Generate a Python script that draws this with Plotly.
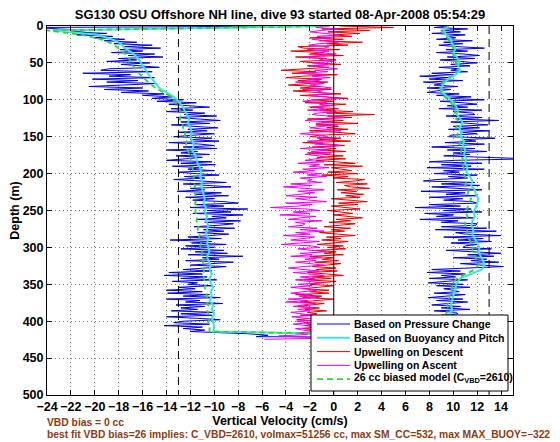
import numpy as np
import plotly.graph_objects as go

# ---------------- data ----------------
TITLE = "SG130 OSU Offshore NH line, dive 93 started 08-Apr-2008 05:54:29"
X_TITLE = "Vertical Velocity (cm/s)"
Y_TITLE = "Depth (m)"
NOTE_1 = "VBD bias = 0 cc"
NOTE_2 = "best fit VBD bias=26 implies: C_VBD=2610, volmax=51256 cc, max SM_CC=532, max MAX_BUOY=\u2212322"
SERIES_NAMES = ["Based on Pressure Change", "Based on Buoyancy and Pitch",
                "Upwelling on Descent", "Upwelling on Ascent",
                "26 cc biased model (C<sub>VBD</sub>=2610)"]

X_TICKS = list(range(-24, 15, 2))
Y_TICKS = list(range(0, 501, 50))
LIMIT_LINES = [-13, 13]
ZERO_LINE = 0

STEP_FINE = 2    # m between samples of noisy series
STEP_SMOOTH = 6  # m between samples of smooth series

# Pressure-change vertical velocity, descent (depth 0..414 every 2 m)
w_press_desc = [
    -0.5, -25.0, -23.0, -20.5, -22.0, -19.0, -21.5, -18.5, -20.0, -17.5, -19.2, -16.5, -18.4, -15.2, -17.6,
    -14.5, -17.9, -16.0, -18.6, -15.0, -17.2, -14.3, -18.0, -16.5, -19.0, -15.4, -17.8, -16.2, -14.6, -18.8,
    -19.5, -15.2, -21.0, -17.0, -18.8, -15.0, -20.2, -16.4, -19.0, -14.8, -18.2, -20.5, -16.0, -19.2, -15.5,
    -17.8, -14.2, -16.0, -13.5, -15.2, -12.6, -14.8, -11.5, -13.8, -12.2, -10.4, -13.6, -11.8, -14.0, -10.8,
    -12.5, -9.8, -13.2, -11.0, -9.5, -12.8, -10.4, -13.6, -11.5, -9.7, -12.2, -10.6, -13.0, -10.0, -11.8,
    -13.4, -10.2, -12.0, -9.6, -13.8, -11.2, -10.0, -12.6, -9.8, -14.0, -11.4, -12.8, -10.4, -13.2, -11.0,
    -12.4, -14.0, -10.2, -12.8, -9.9, -13.5, -11.0, -12.2, -10.0, -13.0, -11.6, -9.6, -12.5, -10.8, -13.4,
    -11.2, -9.0, -12.6, -10.3, -8.6, -12.0, -10.8, -13.1, -9.4, -11.6, -8.8, -12.4, -10.0, -11.8, -9.2,
    -8.0, -11.5, -9.2, -12.0, -7.2, -10.6, -8.6, -11.8, -7.6, -10.2, -9.0, -11.4, -7.8, -10.8, -8.4,
    -9.6, -11.7, -8.3, -10.9, -9.2, -11.4, -8.8, -10.4, -12.2, -9.4, -13.7, -10.2, -11.9, -9.0, -12.4,
    -10.0, -12.8, -9.2, -11.6, -8.9, -12.2, -7.6, -11.0, -9.6, -12.4, -8.4, -10.6, -12.0, -9.0, -11.2,
    -12.6, -10.2, -13.8, -11.0, -14.2, -10.6, -12.8, -9.8, -13.5, -11.4, -12.2, -10.2, -13.0, -11.6, -14.0,
    -11.0, -13.9, -10.4, -12.6, -9.5, -14.0, -11.2, -12.4, -9.3, -13.2, -10.8, -12.8, -11.4, -13.6, -10.0,
    -12.8, -10.2, -14.0, -11.5, -9.5, -12.6, -13.4, -10.4, -14.2, -11.0, -12.6, -10.8, -12.0,
]
# turn at the bottom of the dive
w_press_turn = [-7.2, -5.5, -6.5, 8.0]
d_press_turn = [417, 419, 421, 422]
# Pressure-change vertical velocity, ascent (depth 0..420 every 2 m, listed top-down)
w_press_asc = [
    9.6, 8.4, 11.2, 9.0, 10.6, 8.2, 11.0, 9.4, 10.2, 8.6, 11.6, 9.2, 10.8, 8.8, 10.4,
    12.6, 9.4, 11.2, 8.6, 10.9, 12.2, 9.5, 11.8, 8.9, 10.6, 12.0, 9.8, 11.4, 8.8, 10.5,
    9.8, 11.2, 8.2, 10.0, 7.2, 9.6, 8.0, 10.8, 7.5, 9.2, 8.4, 10.4, 7.8, 9.8, 8.6,
    7.8, 10.5, 8.6, 11.5, 9.4, 12.6, 8.9, 10.8, 12.0, 9.5, 11.2, 8.8, 12.4, 10.0, 11.6,
    11.8, 9.4, 12.4, 10.2, 13.8, 9.8, 11.5, 12.9, 10.0, 12.2, 9.6, 13.0, 10.6, 12.0, 9.8,
    9.6, 13.5, 10.8, 11.9, 9.3, 12.6, 10.5, 8.2, 11.8, 9.5, 12.8, 10.0, 11.4, 9.2, 12.2,
    16.5, 10.2, 8.0, 12.4, 9.0, 11.5, 7.8, 12.6, 9.2, 10.5, 8.4, 12.0, 9.6, 11.2, 8.6,
    7.5, 11.8, 9.0, 12.2, 8.2, 10.6, 12.4, 7.3, 11.0, 9.4, 12.0, 8.0, 10.8, 9.2, 11.6,
    12.0, 8.0, 10.6, 6.8, 11.5, 9.2, 12.4, 7.6, 10.0, 8.6, 11.8, 7.2, 10.4, 9.0, 12.0,
    11.9, 9.0, 12.8, 8.5, 13.6, 10.2, 11.0, 14.0, 9.2, 12.5, 10.4, 13.2, 9.8, 12.0, 11.0,
    10.8, 13.2, 9.4, 12.0, 14.0, 11.2, 13.4, 10.0, 12.8, 11.5, 13.8, 10.6, 12.4, 14.2, 11.0,
    8.2, 10.6, 7.8, 11.0, 9.0, 10.2, 8.0, 11.2, 9.4, 7.9, 10.8, 8.6, 11.4, 9.2, 10.0,
    10.5, 8.4, 11.0, 9.2, 7.9, 10.8, 8.6, 11.2, 9.6, 8.2, 10.6, 9.0, 11.4, 8.4, 10.2,
    10.4, 9.0, 11.5, 8.5, 10.2, 9.4, 11.0, 8.8, 10.0, 9.5, 10.3, 8.6, 11.2, 9.6, 10.0,
    9.8,
]

# Buoyancy & pitch model, descent (depth 0..414 every 6 m)
w_buoy_desc = [
    -0.5, -23.5, -19.8, -18.6, -17.8, -17.5, -16.9, -16.5, -16.2, -16.0,
    -15.7, -15.5, -15.2, -14.9, -14.6, -14.0, -13.4, -13.0, -12.7, -12.5,
    -12.3, -12.1, -12.2, -12.0, -11.9, -12.0, -11.8, -11.7, -11.9, -11.6,
    -11.5, -11.4, -11.2, -11.1, -11.2, -11.0, -11.1, -11.0, -10.9, -10.8,
    -10.9, -10.7, -10.8, -10.6, -10.7, -10.5, -10.6, -10.7, -10.5, -10.6,
    -10.5, -10.4, -10.6, -10.5, -10.3, -10.4, -10.2, -10.4, -10.3, -10.1,
    -10.3, -10.2, -10.4, -10.1, -10.2, -10.0, -10.2, -10.1, -10.0, -10.1,
]
# Buoyancy & pitch model, ascent (depth 0..420 every 6 m, top-down)
w_buoy_asc = [
    9.6, 9.2, 9.4, 9.8, 9.9, 10.2, 10.0, 10.3, 10.5, 10.4,
    10.6, 10.2, 9.6, 9.2, 9.0, 9.1, 9.5, 9.9, 10.2, 10.4,
    10.3, 10.6, 10.8, 10.5, 10.7, 10.6, 10.9, 10.8, 11.0, 10.9,
    11.1, 11.0, 11.2, 11.1, 11.4, 11.6, 11.5, 11.8, 11.9, 12.1,
    12.0, 11.9, 11.7, 11.8, 11.6, 11.5, 11.7, 11.6, 11.8, 12.0,
    12.2, 12.1, 12.3, 12.5, 12.6, 12.4, 11.5, 10.6, 10.3, 10.2,
    10.1, 10.0, 9.9, 9.8, 9.9, 9.7, 9.8, 9.6, 9.7, 9.5, 9.6,
]

# 26 cc biased model, descent (0..414 every 6 m)
w_model_desc = [
    -0.5, -24.0, -21.0, -19.5, -18.5, -18.0, -17.6, -17.2, -17.0, -16.8,
    -16.5, -16.2, -15.8, -15.4, -14.9, -14.2, -13.6, -13.3, -13.1, -12.9,
    -12.8, -12.9, -12.7, -12.6, -12.4, -12.5, -12.3, -12.4, -12.2, -12.1,
    -12.0, -11.9, -11.8, -11.8, -11.7, -11.8, -11.6, -11.7, -11.6, -11.5,
    -11.6, -11.5, -11.6, -11.4, -11.5, -11.3, -11.4, -11.2, -11.3, -11.1,
    -11.2, -11.0, -11.1, -10.9, -11.0, -10.9, -10.8, -10.9, -10.7, -10.8,
    -10.7, -10.6, -10.7, -10.5, -10.6, -10.5, -10.4, -10.5, -10.4, -10.4,
]
# 26 cc biased model, ascent (0..420 every 6 m, top-down)
w_model_asc = [
    9.3, 9.0, 9.3, 9.6, 9.8, 10.0, 9.9, 10.1, 10.3, 10.2,
    10.4, 10.0, 9.4, 9.0, 8.9, 9.0, 9.3, 9.7, 10.0, 10.2,
    10.1, 10.3, 10.5, 10.2, 10.4, 10.3, 10.6, 10.5, 10.7, 10.6,
    10.8, 10.7, 10.9, 10.8, 11.0, 11.1, 11.0, 11.3, 11.2, 11.5,
    11.3, 11.2, 11.0, 11.2, 11.0, 11.0, 11.2, 11.1, 11.3, 11.5,
    11.6, 11.6, 11.8, 12.0, 12.1, 11.8, 11.0, 10.3, 10.0, 9.9,
    9.8, 9.7, 9.6, 9.5, 9.6, 9.4, 9.5, 9.3, 9.4, 9.2, 9.3,
]

# Upwelling on descent (0..414 every 2 m)
w_up_desc = [
    0.5, 5.0, -1.0, 3.0, -0.5, 2.2, 0.0, 1.5, -2.0, 0.8, -1.2, 2.4, -0.6, 1.2, -3.0,
    -2.5, 0.5, -3.6, -0.8, -2.0, 0.8, -3.2, -1.0, 0.2, -2.8, -1.5, 0.6, -2.2, -0.4, -3.0,
    -4.4, -1.5, -3.5, 0.3, -2.6, -4.0, -1.0, -3.0, -0.5, -2.2, -3.8, -1.2, -2.8, -0.2, -3.4,
    -1.5, 0.6, -2.8, -0.2, 1.2, -1.8, 0.0, -2.4, 1.0, -0.8, -2.0, 0.4, -1.2, 1.6, -0.6,
    3.4, -0.5, 1.5, -2.2, 0.8, -1.0, 2.0, -1.5, 0.4, -0.6, 1.2, -2.0, 0.2, 1.8, -1.2,
    -2.0, 0.6, -1.2, 1.4, -2.6, -0.4, 0.9, -1.8, 0.2, -1.0, 1.0, -2.2, -0.2, 0.8, -1.4,
    1.0, -1.5, 0.2, 1.8, -0.8, 2.4, -0.2, 0.8, 1.5, -0.5, 2.0, -1.0, 1.2, 0.0, 2.6,
    1.8, 0.2, 2.8, 0.9, 1.4, 3.0, 0.3, 1.9, 0.6, 2.5, 1.0, 2.2, -0.2, 1.6, 2.8,
    0.4, 2.0, -0.2, 1.2, 2.2, -0.5, 0.8, 1.6, 0.0, 1.1, 2.4, 0.2, 1.4, -0.4, 1.8,
    0.5, -0.8, 1.4, -0.2, 0.9, -1.2, 0.3, 1.8, -0.6, 0.6, -1.0, 1.2, 0.0, -1.4, 0.8,
    -0.5, 1.0, -1.5, 0.2, -0.8, 0.8, -2.0, 0.0, -1.0, 0.4, -1.6, 0.6, -0.4, -1.8, 0.2,
    -1.5, 0.3, -2.2, -0.6, 0.8, -1.8, -0.2, -2.5, 0.2, -1.2, -2.0, 0.0, -1.4, -2.6, -0.4,
    -2.0, -0.4, -3.2, -1.0, -2.6, 0.0, -1.6, -2.8, -0.8, -2.0, -3.0, -1.2, -2.4, -0.6, -2.2,
    -1.4, -2.8, -0.6, -2.2, -3.1, -1.2, -2.5, -1.9, -2.4, -1.0, -2.6, -1.6, -2.0,
]
# Upwelling on ascent (0..420 every 2 m, top-down) plus bottom turn
w_up_asc = [
    -0.3, -1.5, 0.3, -1.0, -2.0, -0.5, 0.5, -1.4, -0.2, -1.8, -0.8, 0.4, -1.2, -2.1, -0.4,
    -0.8, -2.2, -0.4, -1.5, 0.2, -1.0, -2.5, -0.6, -1.2, 0.0, -1.8, -0.5, -2.0, -1.0, 0.3,
    -1.6, -0.5, -2.8, -1.0, -1.8, -0.3, -2.2, -1.2, -3.2, -0.8, -2.0, -1.4, -0.2, -2.6, -1.0,
    -1.5, -0.2, -2.0, -1.0, 0.5, -1.6, -2.6, -0.6, -1.2, -0.1, -1.8, -0.8, -2.2, 0.2, -1.4,
    -1.8, -0.8, 0.8, -1.2, -2.4, -0.4, -1.5, 0.3, -1.0, -2.0, -0.6, 0.6, -1.6, -2.8, -0.9,
    -0.6, -1.4, 0.2, -2.2, -0.9, -1.6, 0.4, -1.1, -2.8, -0.5, -1.9, -0.2, -2.4, -1.2, -0.7,
    -1.5, -2.4, -0.8, -3.0, -1.2, -2.0, -0.4, -2.6, -1.6, -3.4, -1.0, -2.2, -0.6, -2.8, -1.8,
    -2.2, -1.0, -3.6, -1.8, -4.2, -2.4, -0.8, -3.0, -1.6, -2.8, -4.0, -1.4, -3.2, -2.0, -0.6,
    -4.0, -1.8, -3.0, -5.3, -2.2, -1.2, -3.4, -2.0, -4.5, -1.5, -2.8, -3.8, -1.0, -3.2, -2.4,
    -2.6, -3.8, -1.4, -2.8, -0.8, -3.2, -2.0, -4.2, -1.6, -2.4, -3.6, -1.2, -2.8, -4.4, -1.8,
    -1.2, -3.0, -2.2, -0.6, -2.8, -1.8, -3.6, -1.0, -2.4, -1.5, -3.2, -2.0, -0.8, -2.6, -3.8,
    -2.6, -1.2, -3.4, -2.0, -0.8, -2.8, -1.6, -3.2, -2.2, -1.0, -3.0, -1.8, -3.6, -2.4, -1.4,
    -2.4, -3.6, -1.8, -2.9, -1.2, -3.8, -2.2, -4.0, -1.5, -2.6, -3.4, -1.6, -3.0, -2.0, -3.6,
    -3.0, -1.8, -3.5, -2.4, -1.2, -3.1, -2.0, -3.4, -2.2, -1.0, -3.2, -2.6, -1.6, -3.0, -2.2,
    -4.6,
]
w_up_turn = [-0.5, -5.8]
d_up_turn = [423, 424.5]

# ---------------- assemble ----------------
def depths(vals, step):
    return list(np.arange(len(vals)) * step)

def dive(desc, asc, step, turn_w=(), turn_d=()):
    x = list(desc) + list(turn_w) + list(asc)[::-1]
    y = depths(desc, step) + list(turn_d) + depths(asc, step)[::-1]
    return x, y

BLUE, CYAN, RED, MAGENTA, GREEN = "#0000e0", "#3ee4e4", "#e80000", "#f000f0", "#2fd82f"
BROWN = "#8b3c12"
FONT = "Liberation Sans, Arial, Helvetica, sans-serif"

fig = go.Figure()
x, y = dive(w_press_desc, w_press_asc, STEP_FINE, w_press_turn, d_press_turn)
fig.add_trace(go.Scatter(x=x, y=y, mode="lines", name=SERIES_NAMES[0],
                         line=dict(color=BLUE, width=1), showlegend=False))
x, y = dive(w_buoy_desc, w_buoy_asc, STEP_SMOOTH)
fig.add_trace(go.Scatter(x=x, y=y, mode="lines", name=SERIES_NAMES[1],
                         line=dict(color=CYAN, width=2), showlegend=False))
fig.add_trace(go.Scatter(x=w_up_desc, y=depths(w_up_desc, STEP_FINE), mode="lines",
                         name=SERIES_NAMES[2], line=dict(color=RED, width=1), showlegend=False))
ua_x = w_up_turn[::-1] + w_up_asc[::-1]
ua_y = d_up_turn[::-1] + depths(w_up_asc, STEP_FINE)[::-1]
fig.add_trace(go.Scatter(x=ua_x, y=ua_y, mode="lines", name=SERIES_NAMES[3],
                         line=dict(color=MAGENTA, width=1), showlegend=False))
x, y = dive(w_model_desc, w_model_asc, STEP_SMOOTH)
fig.add_trace(go.Scatter(x=x, y=y, mode="lines", name=SERIES_NAMES[4],
                         line=dict(color=GREEN, width=1.8, dash="5px,4px"), showlegend=False))

# ---------------- layout ----------------
# the page body has an 8 px margin, so the figure is made 8 px smaller and
# every page position below is converted to figure coordinates.
OFF = 8
PAGE_W, PAGE_H = 560, 442
W, H = PAGE_W - OFF, PAGE_H - OFF
PL, PR, PT, PB = 47, 513, 26, 395          # plot area in page pixels
L, R, T, B = PL - OFF, PR - OFF, PT - OFF, PB - OFF

def px_x(X): return (X - PL) / (PR - PL)
def px_y(Y): return (PB - Y) / (PB - PT)

shapes = []
for v in LIMIT_LINES:
    shapes.append(dict(type="line", xref="x", yref="y", x0=v, x1=v, y0=0, y1=500,
                       line=dict(color="black", width=1, dash="8px,5px"), layer="above"))
shapes.append(dict(type="line", xref="x", yref="y", x0=ZERO_LINE, x1=ZERO_LINE, y0=0, y1=500,
                   line=dict(color="black", width=1), layer="above"))
# legend box
shapes.append(dict(type="rect", xref="paper", yref="paper",
                   x0=px_x(311), x1=px_x(508), y0=px_y(391), y1=px_y(315),
                   fillcolor="white", line=dict(color="black", width=1), layer="above"))
leg_styles = [dict(color=BLUE, width=1), dict(color=CYAN, width=2), dict(color=RED, width=1),
              dict(color=MAGENTA, width=1), dict(color=GREEN, width=1.8, dash="6px,4px")]
annotations = []
for i, (name, st) in enumerate(zip(SERIES_NAMES, leg_styles)):
    row = 324 + 13.8 * i
    shapes.append(dict(type="line", xref="paper", yref="paper",
                       x0=px_x(317), x1=px_x(350), y0=px_y(row), y1=px_y(row),
                       line=st, layer="above"))
    annotations.append(dict(text=name, xref="paper", yref="paper", x=px_x(352),
                            y=px_y(row - (1.5 if i == 4 else 0)), xanchor="left", yanchor="middle",
                            showarrow=False, font=dict(family=FONT, size=10.5, color="black", weight="bold")))

annotations.append(dict(text=NOTE_1, xref="paper", yref="paper", x=px_x(45), y=px_y(422),
                        xanchor="left", yanchor="middle", showarrow=False,
                        font=dict(family=FONT, size=10.3, color=BROWN, weight="bold")))
annotations.append(dict(text=NOTE_2, xref="paper", yref="paper", x=px_x(45), y=px_y(434),
                        xanchor="left", yanchor="middle", showarrow=False,
                        font=dict(family=FONT, size=10.3, color=BROWN, weight="bold")))

tickfont = dict(family=FONT, size=12.5, color="black", weight="bold")
axis_common = dict(showline=True, linecolor="black", linewidth=1, mirror="ticks",
                   ticks="inside", ticklen=5, tickcolor="black", showgrid=True,
                   gridcolor="#808080", gridwidth=1, griddash="1px,3px", zeroline=False,
                   tickfont=tickfont)

fig.update_layout(
    width=W, height=H, autosize=False,
    margin=dict(l=L, r=W - R, t=T, b=H - B),
    paper_bgcolor="white", plot_bgcolor="white",
    title=dict(text=TITLE, x=0.5, xref="paper", y=1 - (14 - OFF) / H, yref="container",
               xanchor="center", yanchor="middle",
               font=dict(family=FONT, size=13, color="black", weight="bold")),
    xaxis=dict(range=[-24, 15], tickvals=X_TICKS,
               title=dict(text=X_TITLE, standoff=0,
                          font=dict(family=FONT, size=12.5, color="black", weight="bold")),
               automargin=False, **axis_common),
    yaxis=dict(range=[500, 0], tickvals=Y_TICKS,
               title=dict(text=Y_TITLE, standoff=4,
                          font=dict(family=FONT, size=12.5, color="black", weight="bold")),
               automargin=False, **axis_common),
    shapes=shapes, annotations=annotations, showlegend=False,
)

fig.write_html("out.html")
